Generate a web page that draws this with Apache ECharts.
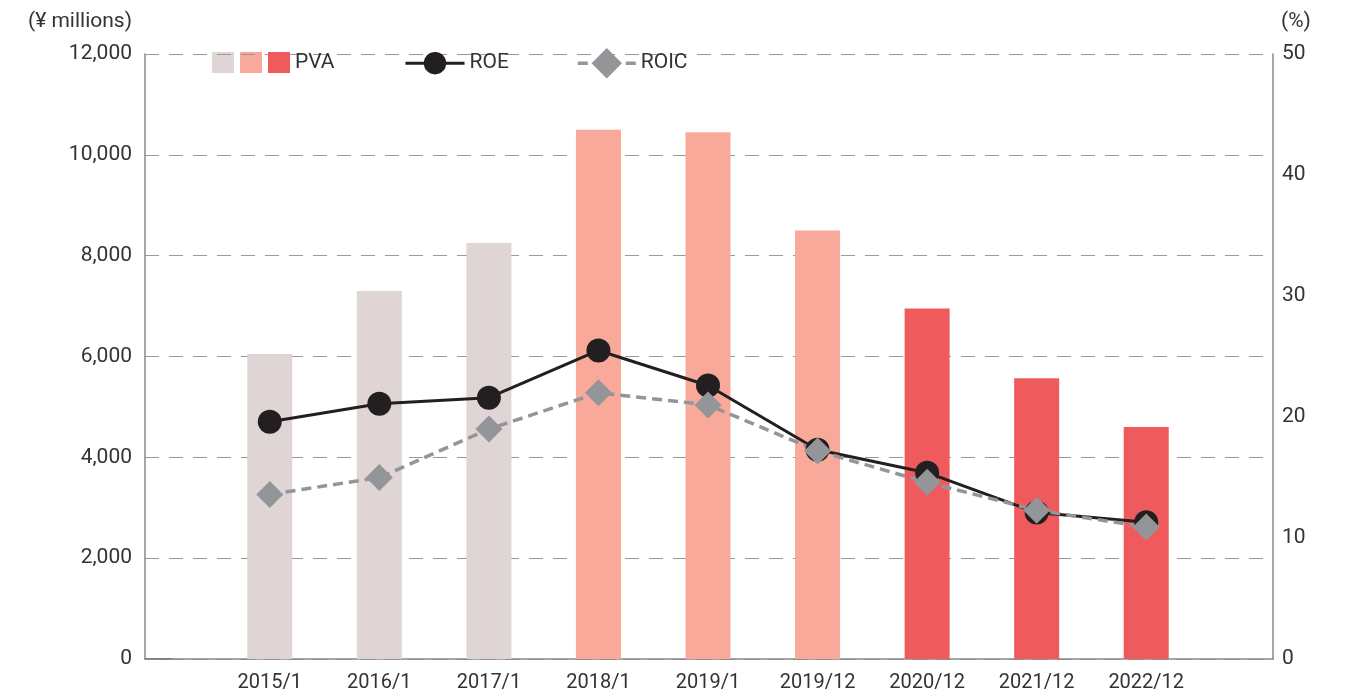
<!DOCTYPE html>
<html>
<head>
<meta charset="utf-8">
<script src="https://cdn.jsdelivr.net/npm/echarts@6/dist/echarts.min.js"></script>
<style>
  html, body { margin: 0; padding: 0; background: #fff; }
  #chart { width: 1348px; height: 695px; }
</style>
</head>
<body>
<div id="chart"></div>
<script>
// categories and values
const periods = ["2015/1", "2016/1", "2017/1", "2018/1", "2019/1", "2019/12", "2020/12", "2021/12", "2022/12"];
const pva = [6050, 7300, 8250, 10500, 10450, 8500, 6950, 5570, 4600];
const roe = [19.6, 21.1, 21.6, 25.5, 22.6, 17.3, 15.4, 12.1, 11.3];
const roic = [13.6, 15.0, 19.0, 22.0, 21.0, 17.2, 14.6, 12.3, 10.9];

// bar colour by period group
const barColors = ["#dfd5d5", "#dfd5d5", "#dfd5d5", "#f8a99a", "#f8a99a", "#f8a99a", "#ef5a5c", "#ef5a5c", "#ef5a5c"];

const font = "Roboto, 'Noto Sans', sans-serif";
const textColor = "#333";

let myChart = echarts.init(document.getElementById("chart"));

let opts = {
  animation: false,
  textStyle: { fontFamily: font },
  grid: [
    // outer grid: axes and dashed lines
    { left: 145, right: 75, top: 54, bottom: 36 },
    // inner grid: the bars and lines
    { left: 215, right: 147, top: 54, bottom: 36 }
  ],
  legend: [
    {
      data: [{ name: "PVA", itemStyle: { color: "#ef5a5c" } }],
      left: 268,
      top: 52,
      padding: 0,
      itemWidth: 22,
      itemHeight: 21,
      icon: "rect",
      textStyle: { fontFamily: font, fontSize: 21, color: textColor }
    },
    {
      data: ["ROE"],
      left: 404,
      top: 52,
      padding: 0,
      itemWidth: 59,
      itemHeight: 28,
      lineStyle: { width: 3 },
      textStyle: { fontFamily: font, fontSize: 21, color: textColor }
    },
    {
      data: ["ROIC"],
      left: 576,
      top: 48,
      padding: 0,
      itemWidth: 58,
      itemHeight: 38,
      lineStyle: { width: 3.5 },
      textStyle: { fontFamily: font, fontSize: 21, color: textColor }
    }
  ],
  graphic: [
    { type: "rect", left: 212, top: 52, shape: { width: 22, height: 21 }, style: { fill: "#dfd5d5" } },
    { type: "rect", left: 240, top: 52, shape: { width: 22, height: 21 }, style: { fill: "#f8a99a" } },
    {
      type: "text", right: 1348 - 132, top: 11,
      style: { text: "(¥ millions)", fontFamily: font, fontSize: 21, fill: textColor, textAlign: "right" }
    },
    {
      type: "text", left: 1281, top: 11,
      style: { text: "(%)", fontFamily: font, fontSize: 21, fill: textColor }
    },
    {
      type: "line", shape: { x1: 145, y1: 659, x2: 172, y2: 659 },
      style: { stroke: "#333", lineWidth: 1.5 }
    }
  ],
  xAxis: [
    {
      type: "value",
      gridIndex: 0,
      min: 0,
      max: 1,
      axisLine: { show: true, lineStyle: { color: "#888", width: 1.5 } },
      axisTick: { show: false },
      axisLabel: { show: false },
      splitLine: { show: false }
    },
    {
      type: "category",
      gridIndex: 1,
      data: periods,
      axisLine: { show: false },
      axisTick: { show: false },
      axisLabel: { color: textColor, fontSize: 20, margin: 14, fontFamily: font }
    }
  ],
  yAxis: [
    {
      type: "value",
      gridIndex: 0,
      min: 0,
      max: 12000,
      interval: 2000,
      axisLine: { show: true, lineStyle: { color: "#888", width: 1.5 } },
      axisTick: { show: false },
      axisLabel: {
        color: textColor, fontSize: 21, margin: 13, fontFamily: font,
        formatter: v => v.toLocaleString("en-US")
      },
      splitLine: { show: true, lineStyle: { color: "#999", width: 1, type: [14, 10] } }
    },
    {
      type: "value",
      gridIndex: 0,
      position: "right",
      min: 0,
      max: 50,
      interval: 10,
      axisLine: { show: true, lineStyle: { color: "#888", width: 1.5 } },
      axisTick: { show: false },
      axisLabel: { color: textColor, fontSize: 21, margin: 9, fontFamily: font },
      splitLine: { show: false }
    },
    { type: "value", gridIndex: 1, min: 0, max: 12000, show: false },
    { type: "value", gridIndex: 1, min: 0, max: 50, show: false }
  ],
  series: [
    {
      name: "PVA",
      type: "bar",
      xAxisIndex: 1,
      yAxisIndex: 2,
      barWidth: 45,
      data: pva,
      itemStyle: { color: p => barColors[p.dataIndex] }
    },
    {
      name: "ROE",
      type: "line",
      xAxisIndex: 1,
      yAxisIndex: 3,
      data: roe,
      symbol: "circle",
      symbolSize: 24,
      color: "#231f20",
      lineStyle: { color: "#231f20", width: 3 },
      itemStyle: { color: "#231f20" }
    },
    {
      name: "ROIC",
      type: "line",
      xAxisIndex: 1,
      yAxisIndex: 3,
      data: roic,
      symbol: "diamond",
      symbolSize: 27,
      color: "#939598",
      lineStyle: { color: "#939598", width: 3.5, type: [10, 6] },
      itemStyle: { color: "#939598" }
    }
  ]
};

myChart.setOption(opts);
</script>
</body>
</html>
